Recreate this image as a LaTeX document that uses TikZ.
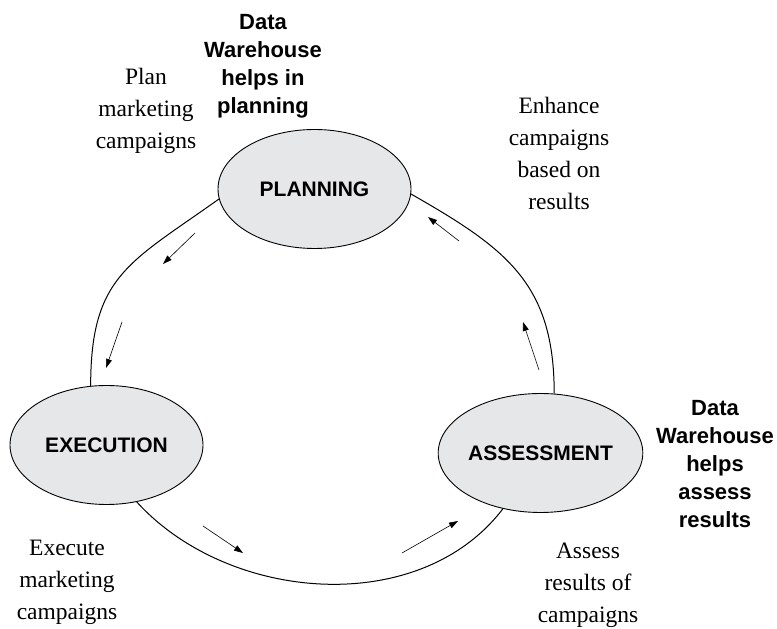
\documentclass[tikz,border=0pt]{standalone}
\usepackage{fontspec}
\setmainfont{Liberation Serif}
\newfontfamily\dwsans{Liberation Sans}
\usepackage{tikz}
\usetikzlibrary{positioning, shapes, arrows.meta}
\definecolor{StageGray}{RGB}{230, 231, 232}

\begin{document}
\begin{tikzpicture}[x=1pt, y=1pt,
      stage/.style={ellipse, draw=black, line width=0.9pt, fill=StageGray, minimum width=193pt,
      minimum height=119pt, inner sep=0pt, font=\dwsans\bfseries\fontsize{21}{25}\selectfont},
      dwnote/.style={align=center, font=\dwsans\bfseries\fontsize{22}{28}\selectfont},
      note/.style={align=center, font=\fontsize{23.5}{32}\selectfont},
      ring/.style={line width=1pt},
      flow/.style={line width=0.6pt, -{Triangle[length=9pt, width=6pt]}}
    ]
      \useasboundingbox (0,0) rectangle (777,629);

      \node[stage] (plan) at (314.5, 440) {PLANNING};
      \node[stage] (exec) at (106.5, 184) {EXECUTION};
      \node[stage] (assess) at (540.5, 176) {ASSESSMENT};

      \draw[ring] (plan.186) .. controls +(-89.5,-63.8) and +(0,110) .. (exec.105);
      \draw[ring] (exec.298) .. controls +(92,-101) and +(-83,-109) .. (assess.236);
      \draw[ring] (assess.77) .. controls +(0,110) and +(95.5,-54.6) .. (plan.357);

      \node[dwnote] (dwplan) at (263, 563) {Data\\Warehouse\\helps in\\planning};
      \node[dwnote] (dwassess) at (715, 165) {Data\\Warehouse\\helps\\assess\\results};
      \node[note] (planmk) at (146, 518) {Plan\\marketing\\campaigns};
      \node[note] (enhance) at (559, 476) {Enhance\\campaigns\\based on\\results};
      \node[note] (execmk) at (67, 47) {Execute\\marketing\\campaigns};
      \node[note] (assessres) at (588, 44) {Assess\\results of\\campaigns};

      % small arrows along the cycle
      \coordinate (f1a) at (195, 396); \coordinate (f1b) at (163, 365);
      \coordinate (f2a) at (122, 307); \coordinate (f2b) at (106, 261);
      \coordinate (f3a) at (203, 103); \coordinate (f3b) at (243, 76);
      \coordinate (f4a) at (402, 76);  \coordinate (f4b) at (458, 108);
      \coordinate (f5a) at (539, 259); \coordinate (f5b) at (523, 307);
      \coordinate (f6a) at (459, 388); \coordinate (f6b) at (428, 412);

      \draw[flow] (f1a) -- (f1b);
      \draw[flow] (f2a) -- (f2b);
      \draw[flow] (f3a) -- (f3b);
      \draw[flow] (f4a) -- (f4b);
      \draw[flow] (f5a) -- (f5b);
      \draw[flow] (f6a) -- (f6b);
    \end{tikzpicture}
\end{document}
